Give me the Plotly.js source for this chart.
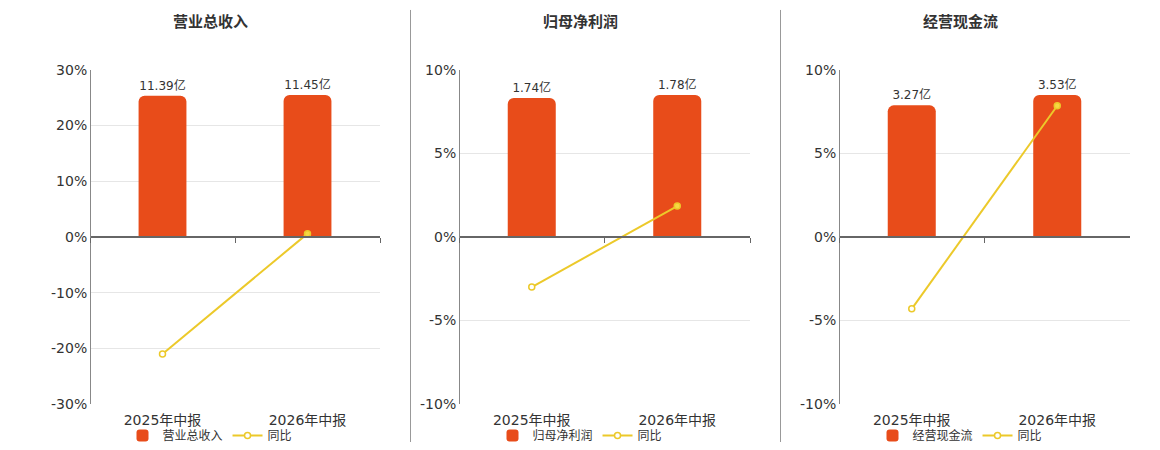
<!DOCTYPE html>
<html>
<head>
<meta charset="utf-8">
<script src="https://cdn.plot.ly/plotly-3.0.1.min.js"></script>
<style>
  body { margin: 0; background: #fff; }
  #chart { width: 1160px; height: 450px; }
</style>
</head>
<body>
<div id="chart"></div>
<script>
// categories and values
var categories = ["2025年中报", "2026年中报"];
var panelTitles = ["营业总收入", "归母净利润", "经营现金流"];
var revenue = [11.39, 11.45];
var netProfit = [1.74, 1.78];
var cashFlow = [3.27, 3.53];
var revenueYoy = [-21.0, 0.6];
var netProfitYoy = [-3.0, 1.85];
var cashFlowYoy = [-4.3, 7.85];
var yoyName = "同比";

// percent axis ticks per panel
var revenueTicks = [-30, -20, -10, 0, 10, 20, 30];
var profitTicks = [-10, -5, 0, 5, 10];
var cashTicks = [-10, -5, 0, 5, 10];

var barValues = [revenue, netProfit, cashFlow];
var yoyValues = [revenueYoy, netProfitYoy, cashFlowYoy];
var pctTicks = [revenueTicks, profitTicks, cashTicks];

var W = 1160, H = 450;
var font = "DejaVu Sans, Noto Sans CJK SC, sans-serif";
var barColor = "#e84c1a";
var lineColor = "#ecc92a";

// pixel positions of each panel
var plotLeft = [90, 459, 839];
var plotRight = [380, 750, 1130];
var panelCenter = [210, 580, 960];
var yDomain = [1 - 405 / H, 1 - 70 / H];
var zeroPos = (yDomain[0] + yDomain[1]) / 2;

var data = [];
var layout = {
  width: W,
  height: H,
  margin: { l: 0, r: 0, t: 0, b: 0 },
  paper_bgcolor: "#fff",
  plot_bgcolor: "rgba(0,0,0,0)",
  font: { family: font, color: "#333" },
  showlegend: true,
  annotations: [],
  shapes: []
};

for (var i = 0; i < 3; i++) {
  var n = i + 1;
  var m = i + 4;
  var xa = n === 1 ? "x" : "x" + n;
  var ya = n === 1 ? "y" : "y" + n;
  var xo = "x" + m;
  var yo = "y" + m;
  var legendId = n === 1 ? "legend" : "legend" + n;
  var dom = [plotLeft[i] / W, plotRight[i] / W];
  var barMax = Math.max.apply(null, barValues[i]) / 0.85;
  var ticks = pctTicks[i];
  var lim = ticks[ticks.length - 1];

  // bars on the base subplot
  data.push({
    type: "bar",
    name: panelTitles[i],
    x: categories,
    y: barValues[i],
    xaxis: xa,
    yaxis: ya,
    legend: legendId,
    width: 0.33,
    marker: { color: barColor, cornerradius: 6 },
    text: barValues[i].map(function (v) { return v.toFixed(2) + "亿"; }),
    textposition: "outside",
    cliponaxis: false,
    textfont: { size: 12, color: "#333", family: font },
    hoverinfo: "x+text"
  });

  // yoy line on the overlay subplot
  data.push({
    type: "scatter",
    mode: "lines+markers",
    name: yoyName,
    x: categories,
    y: yoyValues[i],
    xaxis: xo,
    yaxis: yo,
    legend: legendId,
    line: { color: lineColor, width: 2 },
    marker: {
      size: 6,
      color: ["#fff", "#f6d843"],
      line: { color: lineColor, width: 1.5 }
    },
    cliponaxis: false
  });

  layout["xaxis" + (n === 1 ? "" : n)] = {
    domain: dom,
    anchor: ya,
    type: "category",
    range: [-0.5, 1.5],
    showline: false,
    showgrid: false,
    zeroline: false,
    ticks: "",
    ticklabelstandoff: 6,
    tickfont: { size: 14, color: "#333" },
    fixedrange: true
  };
  layout["yaxis" + (n === 1 ? "" : n)] = {
    domain: yDomain,
    anchor: xa,
    range: [-barMax, barMax],
    visible: false,
    fixedrange: true
  };
  layout["xaxis" + m] = {
    overlaying: xa,
    anchor: "free",
    position: zeroPos,
    type: "category",
    range: [-0.5, 1.5],
    showline: true,
    linecolor: "#666",
    linewidth: 2,
    ticks: "outside",
    tickson: "boundaries",
    ticklen: 5,
    tickcolor: "#666",
    tickwidth: 1,
    showticklabels: false,
    showgrid: false,
    zeroline: false,
    fixedrange: true
  };
  layout["yaxis" + m] = {
    overlaying: ya,
    anchor: "free",
    position: dom[0],
    side: "left",
    range: [-lim, lim],
    tickmode: "array",
    tickvals: ticks,
    ticktext: ticks.map(function (t) { return t + "%"; }),
    showline: true,
    linecolor: "#888",
    linewidth: 1,
    ticks: "",
    showgrid: true,
    gridcolor: "#e6e6e6",
    zeroline: false,
    tickfont: { size: 14, color: "#333" },
    fixedrange: true
  };
  layout[legendId] = {
    orientation: "h",
    x: panelCenter[i] / W,
    xanchor: "center",
    y: 1 - 436 / H,
    yanchor: "middle",
    bgcolor: "rgba(0,0,0,0)",
    font: { size: 12, color: "#333", family: font },
    itemwidth: 30,
    tracegroupgap: 0
  };

  layout.annotations.push({
    text: "<b>" + panelTitles[i] + "</b>",
    xref: "paper",
    yref: "paper",
    x: panelCenter[i] / W,
    y: 1 - 22 / H,
    xanchor: "center",
    yanchor: "middle",
    showarrow: false,
    font: { size: 15, color: "#333", family: font }
  });
}

// panel dividers
[410.5, 780.5].forEach(function (px) {
  layout.shapes.push({
    type: "line",
    xref: "paper",
    yref: "paper",
    x0: px / W,
    x1: px / W,
    y0: 1 - 10 / H,
    y1: 1 - 443 / H,
    line: { color: "#999", width: 1 }
  });
});

Plotly.newPlot("chart", data, layout, { displayModeBar: false, responsive: false });
</script>
</body>
</html>
